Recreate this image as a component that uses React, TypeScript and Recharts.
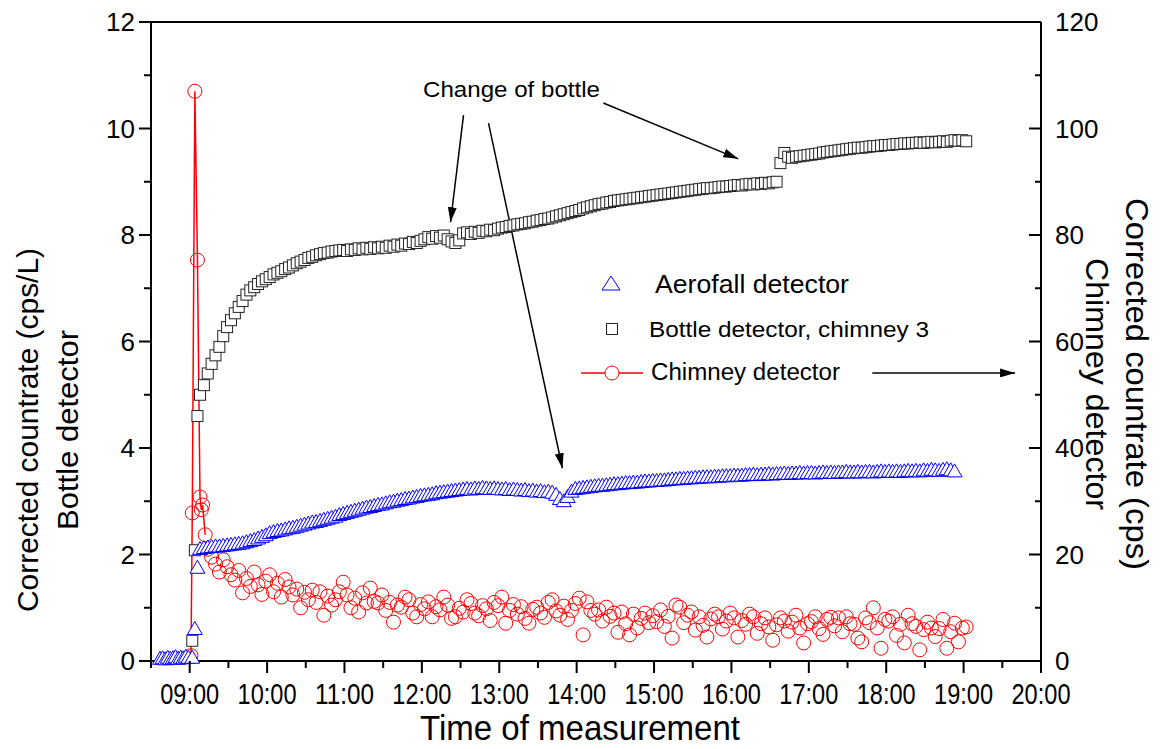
import React from "react";
import { ComposedChart, Line, XAxis, YAxis, ReferenceLine } from "recharts";

const FONT = "'Liberation Sans', Arial, sans-serif";

// axis ticks
const xTicks = [8.5, 9, 9.5, 10, 10.5, 11, 11.5, 12, 12.5, 13, 13.5, 14, 14.5, 15, 15.5, 16, 16.5, 17, 17.5, 18, 18.5, 19, 19.5, 20];
const xMajor = [9, 10, 11, 12, 13, 14, 15, 16, 17, 18, 19, 20];
const xLabels = ["09:00", "10:00", "11:00", "12:00", "13:00", "14:00", "15:00", "16:00", "17:00", "18:00", "19:00", "20:00"];
const leftTicks = [0, 1, 2, 3, 4, 5, 6, 7, 8, 9, 10, 11, 12];
const rightTicks = [0, 10, 20, 30, 40, 50, 60, 70, 80, 90, 100, 110, 120];

// sampling interval of the regular runs, minutes
const STEP_MIN = 3;

// Aerofall detector (cps/L, left axis)
const aerofallEarlyTimes = ["08:37", "08:39", "08:41", "08:43", "08:45", "08:47", "08:49", "08:51", "08:53", "08:55", "08:57", "08:59", "09:02", "09:04", "09:06"];
const aerofallEarlyValues = [0.06, 0.07, 0.05, 0.08, 0.06, 0.07, 0.09, 0.06, 0.08, 0.07, 0.1, 0.08, 0.08, 0.62, 1.77];
const aerofallStart = "09:08";
const aerofallValues = [
  2.12, 2.14, 2.15, 2.16, 2.17, 2.17, 2.18, 2.19, 2.2, 2.21, 2.22, 2.23, 2.25, 2.27, 2.29, 2.32, 2.35, 2.38,
  2.42, 2.44, 2.46, 2.47, 2.49, 2.51, 2.52, 2.54, 2.56, 2.58, 2.6, 2.62, 2.63, 2.65, 2.67, 2.69, 2.71, 2.73, 2.76, 2.78,
  2.8, 2.82, 2.84, 2.86, 2.88, 2.9, 2.91, 2.93, 2.95, 2.96, 2.98, 3.0, 3.01, 3.03, 3.04, 3.06, 3.07, 3.09, 3.1, 3.12,
  3.13, 3.14, 3.15, 3.17, 3.18, 3.19, 3.2, 3.21, 3.22, 3.23, 3.24, 3.25, 3.24, 3.26, 3.25, 3.27, 3.26, 3.25, 3.26, 3.25,
  3.24, 3.25, 3.23, 3.24, 3.23, 3.22, 3.23, 3.21, 3.22, 3.2, 3.21, 3.19, 3.2, 3.18, 3.14, 3.06, 3.02, 3.1, 3.2, 3.25,
  3.26, 3.27, 3.28, 3.29, 3.3, 3.31, 3.31, 3.32, 3.33, 3.34, 3.34, 3.35, 3.36, 3.36, 3.37, 3.37, 3.38, 3.39, 3.39, 3.4,
  3.4, 3.41, 3.41, 3.42, 3.43, 3.43, 3.44, 3.44, 3.45, 3.45, 3.46, 3.46, 3.47, 3.47, 3.47, 3.48, 3.48, 3.49, 3.49, 3.49,
  3.5, 3.5, 3.5, 3.51, 3.51, 3.52, 3.51, 3.52, 3.52, 3.53, 3.52, 3.53, 3.53, 3.54, 3.53, 3.54, 3.54, 3.55, 3.54, 3.55,
  3.55, 3.54, 3.55, 3.56, 3.55, 3.56, 3.55, 3.56, 3.56, 3.57, 3.56, 3.56, 3.57, 3.56, 3.57, 3.57, 3.56, 3.57, 3.58, 3.57,
  3.58, 3.57, 3.58, 3.57, 3.58, 3.59, 3.58, 3.59, 3.58, 3.6, 3.59, 3.61, 3.6, 3.59, 3.61, 3.62, 3.6, 3.58,
];

// Bottle detector, chimney 3 (cps/L, left axis)
const bottleEarlyTimes = ["09:02", "09:04", "09:06"];
const bottleEarlyValues = [0.38, 2.08, 4.6];
const bottleStart = "09:08";
const bottleValues = [
  5.0, 5.18, 5.4, 5.58, 5.74, 5.9, 6.1, 6.27, 6.4, 6.53, 6.65, 6.76, 6.88, 6.96, 7.02, 7.08, 7.13, 7.17,
  7.21, 7.26, 7.29, 7.32, 7.36, 7.39, 7.43, 7.47, 7.5, 7.53, 7.57, 7.59, 7.62, 7.64, 7.66, 7.67, 7.69, 7.7, 7.71, 7.72,
  7.7, 7.73, 7.72, 7.75, 7.73, 7.76, 7.74, 7.77, 7.75, 7.78, 7.76, 7.8, 7.78, 7.82, 7.8, 7.84, 7.83, 7.87, 7.85, 7.89,
  7.92, 7.96, 7.93, 7.98, 7.95, 7.99, 7.92, 7.88, 7.85, 7.9, 8.03, 8.05, 8.02, 8.06, 8.04, 8.08, 8.07, 8.1, 8.09, 8.12,
  8.14, 8.15, 8.17, 8.18, 8.2, 8.21, 8.22, 8.24, 8.25, 8.27, 8.28, 8.3, 8.31, 8.33, 8.35, 8.37, 8.39, 8.41, 8.43, 8.45,
  8.47, 8.5, 8.52, 8.54, 8.56, 8.58, 8.59, 8.61, 8.62, 8.64, 8.65, 8.66, 8.67, 8.68, 8.69, 8.7, 8.71, 8.72, 8.73, 8.74,
  8.75, 8.76, 8.77, 8.78, 8.79, 8.8, 8.81, 8.82, 8.83, 8.84, 8.85, 8.86, 8.87, 8.88, 8.88, 8.89, 8.9, 8.91, 8.91, 8.92,
  8.93, 8.94, 8.93, 8.95, 8.96, 8.95, 8.97, 8.96, 8.98, 8.97, 8.99, 9.0,
];
const bottleNewStart = "16:38";
const bottleNewValues = [
  9.35, 9.54, 9.47, 9.45, 9.47, 9.48, 9.49, 9.5, 9.51, 9.52, 9.53, 9.55, 9.56, 9.57, 9.58, 9.59, 9.6,
  9.61, 9.62, 9.63, 9.64, 9.64, 9.65, 9.66, 9.67, 9.67, 9.68, 9.69, 9.69, 9.7, 9.71, 9.71, 9.72,
  9.72, 9.73, 9.73, 9.74, 9.73, 9.74, 9.75, 9.74, 9.75, 9.76, 9.75, 9.77, 9.78, 9.77, 9.78, 9.76,
];

// Chimney detector (cps, right axis)
const chimneyEarlyTimes = ["09:01", "09:02", "09:04", "09:06", "09:08", "09:09", "09:10", "09:12"];
const chimneyEarlyValues = [1.0, 27.8, 107.0, 75.3, 30.8, 28.4, 29.3, 23.7];
const chimneyStart = "09:14";
const chimneyValues = [
  21.0, 19.5, 18.2, 16.7, 19.0, 17.7, 16.2, 15.2, 17.0, 12.8, 15.5, 14.0, 16.7, 14.3, 12.5, 15.0,
  16.2, 13.0, 14.6, 12.0, 15.3, 13.9, 12.4, 13.5, 10.0, 12.9, 11.5, 13.3, 11.0, 13.0, 8.6, 12.2, 10.5, 11.5, 13.0, 14.8,
  12.4, 10.0, 11.8, 9.2, 12.8, 10.9, 13.7, 11.2, 10.9, 12.4, 9.5, 11.0, 7.3, 10.5, 10.1, 12.0, 11.5, 9.0, 8.3, 10.6,
  9.8, 11.1, 8.3, 10.2, 9.6, 12.0, 10.5, 8.0, 8.3, 9.9, 9.2, 11.5, 10.8, 9.0, 8.5, 10.4, 9.8, 7.6, 11.0, 10.4,
  12.0, 7.1, 9.5, 10.6, 8.8, 10.2, 8.0, 7.1, 9.7, 10.1, 9.0, 8.2, 11.0, 11.5, 9.4, 8.6, 10.3, 7.8, 9.5, 10.8,
  11.8, 4.9, 11.1, 9.5, 8.8, 9.6, 7.5, 10.1, 8.4, 9.0, 5.4, 9.2, 7.0, 4.9, 8.8, 6.2, 8.0, 9.0, 7.2, 8.5,
  7.4, 9.6, 6.5, 8.4, 4.3, 10.5, 10.1, 7.2, 8.6, 9.2, 5.8, 8.3, 6.7, 4.5, 7.9, 8.8, 8.3, 6.0, 7.5, 9.0,
  8.1, 4.5, 7.6, 6.9, 8.8, 8.3, 5.2, 7.0, 8.1, 6.4, 3.9, 6.8, 8.1, 7.5, 5.6, 7.3, 8.6, 6.2, 3.4, 7.0,
  7.4, 8.3, 6.1, 5.0, 7.8, 8.2, 6.6, 8.1, 5.5, 8.3, 7.0, 6.9, 4.3, 3.6, 8.1, 7.2, 10.0, 6.2, 2.4, 7.8,
  7.5, 8.3, 4.8, 6.9, 3.4, 8.6, 7.0, 6.5, 2.1, 5.9, 7.3, 6.2, 4.6, 6.1, 7.8, 2.4, 5.5, 7.1, 3.6, 6.2,
  6.4,
];

const toHours = (s: string) => {
  const [h, m] = s.split(":").map(Number);
  return h + m / 60;
};
const fromTimes = (times: string[], values: number[]) =>
  times.map((s, i) => ({ t: toHours(s), v: values[i] }));
const fromStep = (start: string, values: number[]) =>
  values.map((v, i) => ({ t: toHours(start) + (i * STEP_MIN) / 60, v }));

const aerofallData = [...fromTimes(aerofallEarlyTimes, aerofallEarlyValues), ...fromStep(aerofallStart, aerofallValues)];
const bottleData = [
  ...fromTimes(bottleEarlyTimes, bottleEarlyValues),
  ...fromStep(bottleStart, bottleValues),
  ...fromStep(bottleNewStart, bottleNewValues),
];
const chimneyLineData = fromTimes(chimneyEarlyTimes, chimneyEarlyValues);
const chimneyData = [...chimneyLineData, ...fromStep(chimneyStart, chimneyValues)];

// annotation arrows, in data units (hours, left axis)
const arrows = [
  [{ x: 12.538, y: 10.25 }, { x: 12.37, y: 8.24 }],
  [{ x: 12.861, y: 10.1 }, { x: 13.816, y: 3.62 }],
  [{ x: 14.345, y: 10.48 }, { x: 16.088, y: 9.43 }],
  [{ x: 17.82, y: 5.41 }, { x: 19.665, y: 5.41 }],
];

const triangle = (cx: number, cy: number, w: number, h: number) =>
  `M${cx},${cy - h / 2} L${cx + w / 2},${cy + h / 2} L${cx - w / 2},${cy + h / 2} Z`;

const BottomTick = (p: any) => {
  const v = p.payload.value;
  const i = xMajor.indexOf(v);
  return (
    <g>
      <line x1={p.x} y1={p.y} x2={p.x} y2={p.y + (i >= 0 ? 12 : 7)} stroke="#000" strokeWidth={2} />
      {i >= 0 && (
        <text x={p.x} y={p.y + 43} textAnchor="middle" fontSize={30} fontFamily={FONT} fill="#000"
          textLength={59} lengthAdjust="spacingAndGlyphs">
          {xLabels[i]}
        </text>
      )}
    </g>
  );
};

const TopTick = (p: any) => {
  const major = xMajor.includes(p.payload.value);
  return <line x1={p.x} y1={p.y} x2={p.x} y2={p.y + (major ? 12 : 6)} stroke="#000" strokeWidth={2} />;
};

const LeftTick = (p: any) => {
  const v = p.payload.value;
  const major = v % 2 === 0;
  return (
    <g>
      <line x1={p.x - (major ? 12 : 7)} y1={p.y} x2={p.x} y2={p.y} stroke="#000" strokeWidth={2} />
      {major && (
        <text x={p.x - 16} y={p.y + 9} textAnchor="end" fontSize={26} fontFamily={FONT} fill="#000">
          {v}
        </text>
      )}
    </g>
  );
};

const RightTick = (p: any) => {
  const v = p.payload.value;
  const major = v % 20 === 0;
  return (
    <g>
      <line x1={p.x - (major ? 12 : 6)} y1={p.y} x2={p.x} y2={p.y} stroke="#000" strokeWidth={2} />
      {major && (
        <text x={p.x + 14} y={p.y + 9} textAnchor="start" fontSize={26} fontFamily={FONT} fill="#000">
          {v}
        </text>
      )}
    </g>
  );
};

const TriangleDot = (p: any) => (
  <path key={`a${p.index}`} d={triangle(p.cx, p.cy, 15, 13)} fill="#fff" stroke="#0000ff" strokeWidth={1} />
);

const SquareDot = (p: any) => (
  <rect key={`b${p.index}`} x={p.cx - 5.5} y={p.cy - 5.5} width={11} height={11} fill="#fff" stroke="#222" strokeWidth={1} />
);

const axisLine = { stroke: "#000", strokeWidth: 2 };

export default function App() {
  return (
    <div style={{ position: "absolute", left: 0, top: 0, width: 1162, height: 749, background: "#fff" }}>
      <ComposedChart width={1162} height={749} margin={{ top: 12, right: 61, bottom: 58, left: 91 }}>
        <XAxis xAxisId="bottom" type="number" dataKey="t" domain={[8.5, 20]} ticks={xTicks} interval={0}
          height={30} tickSize={0} tickMargin={0} tickLine={false} axisLine={axisLine} tick={BottomTick} />
        <XAxis xAxisId="top" orientation="top" type="number" dataKey="t" domain={[8.5, 20]} ticks={xTicks} interval={0}
          height={10} tickSize={0} tickMargin={0} tickLine={false} axisLine={axisLine} tick={TopTick} />
        <YAxis yAxisId="left" type="number" domain={[0, 12]} ticks={leftTicks} interval={0}
          width={60} tickSize={0} tickMargin={0} tickLine={false} axisLine={axisLine} tick={LeftTick} />
        <YAxis yAxisId="right" orientation="right" type="number" domain={[0, 120]} ticks={rightTicks} interval={0}
          width={60} tickSize={0} tickMargin={0} tickLine={false} axisLine={axisLine} tick={RightTick} />

        <Line xAxisId="bottom" yAxisId="left" data={bottleData} dataKey="v" stroke="none"
          dot={SquareDot} activeDot={false} isAnimationActive={false} />
        <Line xAxisId="bottom" yAxisId="right" data={chimneyLineData} dataKey="v" type="linear"
          stroke="#ff0000" strokeWidth={1.5} dot={false} activeDot={false} isAnimationActive={false} />
        <Line xAxisId="bottom" yAxisId="right" data={chimneyData} dataKey="v" stroke="none"
          dot={{ r: 7, fill: "none", stroke: "#ff0000", strokeWidth: 1 }} activeDot={false} isAnimationActive={false} />
        <Line xAxisId="bottom" yAxisId="left" data={aerofallData} dataKey="v" stroke="none"
          dot={TriangleDot} activeDot={false} isAnimationActive={false} />

        {arrows.map((seg, i) => (
          <ReferenceLine key={i} xAxisId="bottom" yAxisId="left" segment={seg} ifOverflow="visible"
            stroke="#000" strokeWidth={1.5} markerEnd="url(#arrowHead)" />
        ))}
      </ComposedChart>

      <svg width={1162} height={749} style={{ position: "absolute", left: 0, top: 0, pointerEvents: "none" }}
        fontFamily={FONT} fill="#000">
        <defs>
          <marker id="arrowHead" markerUnits="userSpaceOnUse" markerWidth={15} markerHeight={9}
            refX={15} refY={4.5} orient="auto">
            <path d="M0,0 L15,4.5 L0,9 Z" fill="#000" />
          </marker>
        </defs>

        <text transform="translate(38,430) rotate(-90)" textAnchor="middle" fontSize={30}
          textLength={364} lengthAdjust="spacingAndGlyphs">Corrected countrate (cps/L)</text>
        <text transform="translate(78,430) rotate(-90)" textAnchor="middle" fontSize={30}
          textLength={200} lengthAdjust="spacingAndGlyphs">Bottle detector</text>
        <text transform="translate(1126,384) rotate(90)" textAnchor="middle" fontSize={31}
          textLength={372} lengthAdjust="spacingAndGlyphs">Corrected countrate (cps)</text>
        <text transform="translate(1086,384) rotate(90)" textAnchor="middle" fontSize={31}
          textLength={252} lengthAdjust="spacingAndGlyphs">Chimney detector</text>
        <text x={580} y={740} textAnchor="middle" fontSize={35} textLength={320}
          lengthAdjust="spacingAndGlyphs">Time of measurement</text>

        <text x={423} y={97} fontSize={22} textLength={177} lengthAdjust="spacingAndGlyphs">Change of bottle</text>

        <path d={triangle(611, 283, 18, 14)} fill="#fff" stroke="#0000ff" strokeWidth={1} />
        <text x={655} y={293} fontSize={25} textLength={194} lengthAdjust="spacingAndGlyphs">Aerofall detector</text>
        <rect x={606.5} y={323.5} width={11} height={11} fill="#fff" stroke="#222" strokeWidth={1} />
        <text x={649} y={337} fontSize={22} textLength={280} lengthAdjust="spacingAndGlyphs">Bottle detector, chimney 3</text>
        <line x1={581} y1={373} x2={643} y2={373} stroke="#ff0000" strokeWidth={1.5} />
        <circle cx={612} cy={373} r={7} fill="#fff" stroke="#ff0000" strokeWidth={1} />
        <text x={651} y={380} fontSize={23} textLength={189} lengthAdjust="spacingAndGlyphs">Chimney detector</text>
      </svg>
    </div>
  );
}
